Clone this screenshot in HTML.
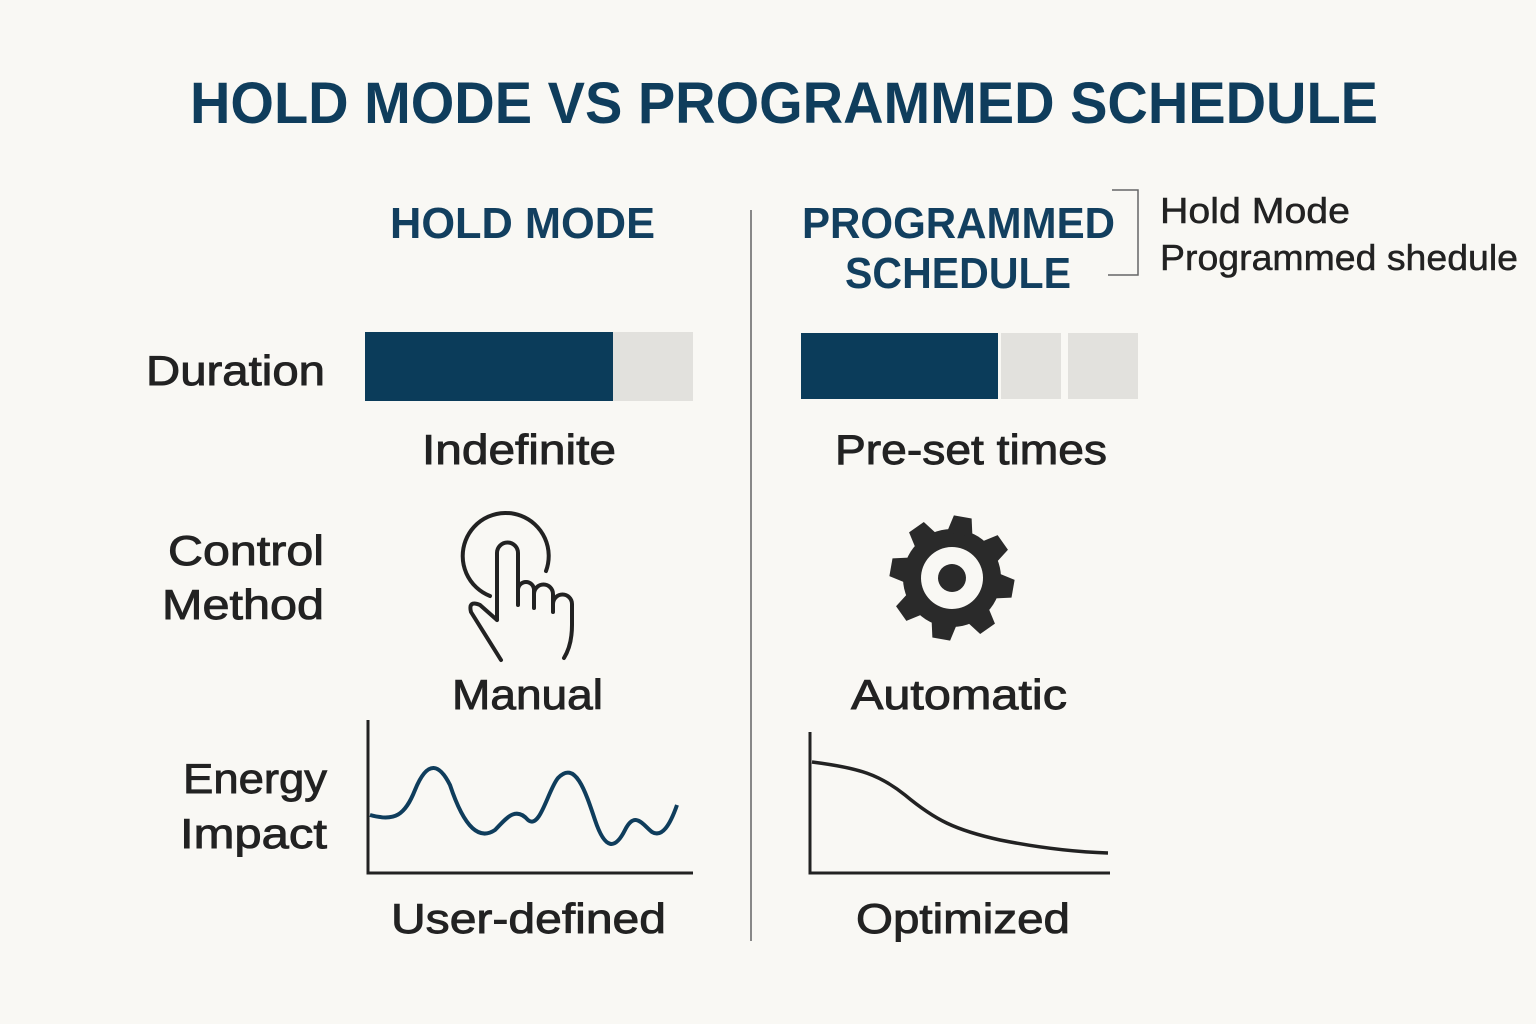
<!DOCTYPE html>
<html><head><meta charset="utf-8"><style>
html,body{margin:0;padding:0;background:#f9f8f4}
svg{display:block}
text{font-family:"Liberation Sans",sans-serif}
</style></head><body>
<svg width="1536" height="1024" viewBox="0 0 1536 1024" xmlns="http://www.w3.org/2000/svg">
<rect width="1536" height="1024" fill="#f9f8f4"/>
<text x="190" y="123" font-size="58" font-weight="bold" fill="#0f3d5c" textLength="1188" lengthAdjust="spacingAndGlyphs">HOLD MODE VS PROGRAMMED SCHEDULE</text>
<g font-weight="bold" fill="#123f5f" font-size="44">
<text x="390" y="238" textLength="265" lengthAdjust="spacingAndGlyphs">HOLD MODE</text>
<text x="802" y="238" textLength="313" lengthAdjust="spacingAndGlyphs">PROGRAMMED</text>
<text x="845" y="288" textLength="226" lengthAdjust="spacingAndGlyphs">SCHEDULE</text>
</g>
<line x1="751" y1="210" x2="751" y2="941" stroke="#888" stroke-width="2"/>
<path d="M1112 190 H1138 V275 H1108" fill="none" stroke="#666" stroke-width="1.5"/>
<g fill="#222" stroke="#222" stroke-width="0.5" font-size="36">
<text x="1160" y="223" textLength="190" lengthAdjust="spacingAndGlyphs">Hold Mode</text>
<text x="1160" y="270" textLength="358" lengthAdjust="spacingAndGlyphs">Programmed shedule</text>
</g>
<g fill="#222" stroke="#222" stroke-width="0.9" font-size="42">
<text x="146" y="385" textLength="179" lengthAdjust="spacingAndGlyphs">Duration</text>
<text x="422" y="464" textLength="194" lengthAdjust="spacingAndGlyphs">Indefinite</text>
<text x="835" y="464" textLength="272" lengthAdjust="spacingAndGlyphs">Pre-set times</text>
<text x="168" y="565" textLength="156" lengthAdjust="spacingAndGlyphs">Control</text>
<text x="162" y="619" textLength="162" lengthAdjust="spacingAndGlyphs">Method</text>
<text x="452" y="709" textLength="151" lengthAdjust="spacingAndGlyphs">Manual</text>
<text x="851" y="709" textLength="216" lengthAdjust="spacingAndGlyphs">Automatic</text>
<text x="183" y="793" textLength="144" lengthAdjust="spacingAndGlyphs">Energy</text>
<text x="180" y="848" textLength="147" lengthAdjust="spacingAndGlyphs">Impact</text>
<text x="391" y="933" textLength="275" lengthAdjust="spacingAndGlyphs">User-defined</text>
<text x="856" y="933" textLength="214" lengthAdjust="spacingAndGlyphs">Optimized</text>
</g>
<rect x="365" y="332" width="248" height="69" fill="#0b3c5a"/>
<rect x="613" y="332" width="80" height="69" fill="#e2e1dd"/>
<rect x="801" y="333" width="197" height="66" fill="#0b3c5a"/>
<rect x="1001" y="333" width="60" height="66" fill="#e2e1dd"/>
<rect x="1068" y="333" width="70" height="66" fill="#e2e1dd"/>
<!-- hand -->
<g fill="none" stroke="#222" stroke-width="4" stroke-linecap="round" stroke-linejoin="round">
<path d="M490 596 A43 43 0 1 1 546 571"/>
<path d="M497 620 V553 A10.5 10.5 0 0 1 518 553 V605 M518 600 V590 A7 7 0 0 1 534 590 V608 M534 603 V594 A9 9 0 0 1 553 594 V612 M553 604 A9 9 0 0 1 572 604 V625 Q572 645 564 658 M497 620 L480 605 Q468 600 471 612 L501 660"/>
</g>
<!-- gear -->
<g transform="translate(952 578) rotate(10)" fill="#2a2a2a">
<circle r="49"/>
<g id="t"><path d="M-13 -44 L-9 -62 H9 L13 -44 Z"/></g>
<use href="#t" transform="rotate(45)"/><use href="#t" transform="rotate(90)"/><use href="#t" transform="rotate(135)"/>
<use href="#t" transform="rotate(180)"/><use href="#t" transform="rotate(225)"/><use href="#t" transform="rotate(270)"/><use href="#t" transform="rotate(315)"/>
<circle r="31" fill="#f9f8f4"/>
<circle r="14"/>
</g>
<!-- charts -->
<path d="M368 720 V873 H693" fill="none" stroke="#222" stroke-width="3"/>
<path d="M370 815 C395 822 405 815 415 790 C428 758 440 765 450 785 C465 830 480 840 495 830 C505 820 515 805 528 820 C540 830 548 790 558 778 C575 760 585 790 595 820 C605 850 615 850 625 830 C635 810 643 825 652 832 C662 838 670 825 677 805" fill="none" stroke="#0f3d5c" stroke-width="4"/>
<path d="M810 732 V873 H1110" fill="none" stroke="#222" stroke-width="3"/>
<path d="M812 762 C860 768 880 775 905 795 C935 820 955 830 1000 840 C1040 848 1075 852 1108 853" fill="none" stroke="#222" stroke-width="3.5"/>
</svg>
</body></html>
